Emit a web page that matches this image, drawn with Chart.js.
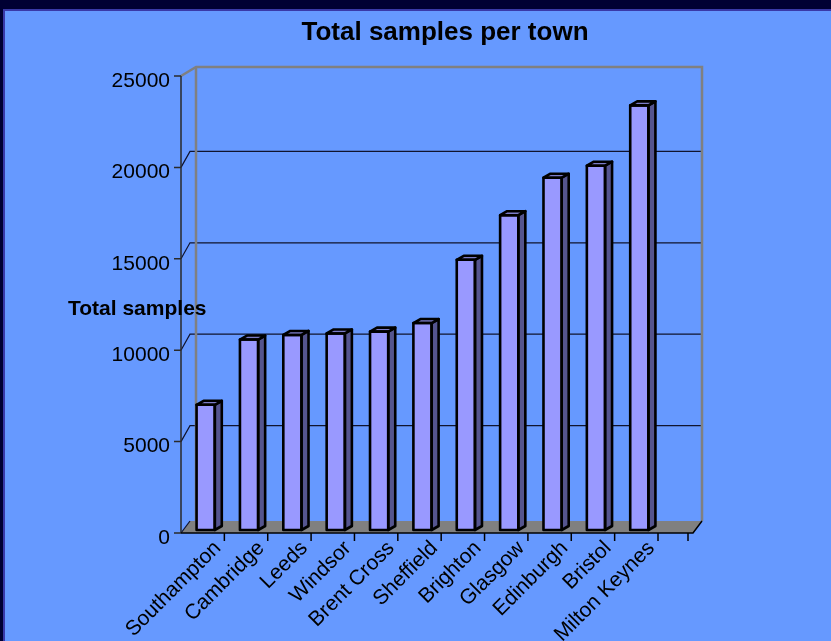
<!DOCTYPE html>
<html>
<head>
<meta charset="utf-8">
<script src="https://cdn.jsdelivr.net/npm/chart.js@4.4.0/dist/chart.umd.min.js"></script>
<style>
  html, body { margin: 0; padding: 0; background: #000033; overflow: hidden; }
  #wrap { width: 831px; height: 641px; }
</style>
</head>
<body>
<div id="wrap"><canvas id="townChart" width="831" height="641"></canvas></div>
<script>
// --- Data ---
const towns = ["Southampton", "Cambridge", "Leeds", "Windsor", "Brent Cross", "Sheffield",
  "Brighton", "Glasgow", "Edinburgh", "Bristol", "Milton Keynes"];
const totalSamples = [6850, 10420, 10670, 10750, 10850, 11320, 14780, 17220, 19270, 19930, 23230];
const yTicks = [0, 5000, 10000, 15000, 20000, 25000];
const chartTitle = "Total samples per town";
const yAxisTitle = "Total samples";

const fontFamily = "'Liberation Sans', Arial, sans-serif";

// --- 3D look: walls, floor, gridlines, bar sides ---
const depthPlugin = {
  id: "depth3d",
  beforeDraw(chart) {
    const ctx = chart.ctx;
    ctx.save();
    ctx.fillStyle = "#000033";
    ctx.fillRect(0, 0, chart.width, chart.height);
    ctx.fillStyle = "#3939a8";
    ctx.fillRect(3, 9, chart.width - 3, chart.height - 9);
    ctx.fillStyle = "#6699ff";
    ctx.fillRect(5, 11, chart.width - 5, chart.height - 11);
    ctx.restore();
  },
  beforeDatasetsDraw(chart) {
    const { ctx, chartArea: a, scales: { y } } = chart;
    const maxV = yTicks[yTicks.length - 1];
    const frontX = a.left - 3;
    const wallL = a.left + 12;
    const wallR = a.right + 41;
    const floorR = a.right + 32;
    const front = v => y.getPixelForValue(v) + 3;
    const back = v => y.getPixelForValue(v) - 13;
    const wallTop = y.getPixelForValue(maxV) - 6;
    const floorBack = y.getPixelForValue(0) - 9;

    ctx.save();
    // floor
    ctx.fillStyle = "#808080";
    ctx.beginPath();
    ctx.moveTo(frontX, front(0));
    ctx.lineTo(floorR, front(0));
    ctx.lineTo(wallR, floorBack);
    ctx.lineTo(wallL - 6, floorBack);
    ctx.closePath();
    ctx.fill();

    // gridlines on side + back wall
    ctx.strokeStyle = "#10142e";
    ctx.lineWidth = 1.2;
    yTicks.forEach(v => {
      if (v === 0 || v === maxV) return;
      ctx.beginPath();
      ctx.moveTo(frontX, front(v));
      ctx.lineTo(frontX + 9, back(v));
      ctx.lineTo(wallR, back(v));
      ctx.stroke();
    });
    // floor left diagonal
    ctx.beginPath();
    ctx.moveTo(frontX, front(0));
    ctx.lineTo(wallL - 6, floorBack);
    ctx.stroke();

    // wall borders
    ctx.strokeStyle = "#808080";
    ctx.lineWidth = 2.5;
    ctx.beginPath();
    ctx.moveTo(frontX, front(maxV));
    ctx.lineTo(wallL, wallTop);
    ctx.lineTo(wallR, wallTop);
    ctx.lineTo(wallR, floorBack);
    ctx.moveTo(wallL, wallTop);
    ctx.lineTo(wallL, floorBack);
    ctx.stroke();

    // front value axis + ticks
    ctx.strokeStyle = "#2a2a2a";
    ctx.lineWidth = 1.5;
    ctx.beginPath();
    ctx.moveTo(frontX, front(maxV));
    ctx.lineTo(frontX, front(0));
    yTicks.forEach(v => {
      ctx.moveTo(frontX - 7, front(v));
      ctx.lineTo(frontX, front(v));
    });
    ctx.stroke();

    // front category axis + ticks
    ctx.strokeStyle = "#000000";
    ctx.beginPath();
    ctx.moveTo(frontX, front(0));
    ctx.lineTo(floorR, front(0));
    ctx.lineTo(wallR, floorBack);
    const step = a.width / towns.length;
    for (let k = 1; k <= towns.length; k++) {
      const x = a.left + k * step - 3;
      ctx.moveTo(x, front(0));
      ctx.lineTo(x, front(0) + 8);
    }
    ctx.moveTo(floorR - 5, front(0));
    ctx.lineTo(floorR - 5, front(0) + 8);
    ctx.stroke();
    ctx.restore();
  },
  afterDatasetsDraw(chart) {
    const ctx = chart.ctx;
    const meta = chart.getDatasetMeta(0);
    const dx = 7, dy = -4;
    ctx.save();
    ctx.strokeStyle = "#000000";
    ctx.lineWidth = 2.6;
    ctx.lineJoin = "round";
    meta.data.forEach(bar => {
      const { x, y, base, width } = bar.getProps(["x", "y", "base", "width"], true);
      const l = x - width / 2, r = x + width / 2;
      // side face
      ctx.fillStyle = "#55558f";
      ctx.beginPath();
      ctx.moveTo(r, y);
      ctx.lineTo(r + dx, y + dy);
      ctx.lineTo(r + dx, base + dy);
      ctx.lineTo(r, base);
      ctx.closePath();
      ctx.fill();
      ctx.stroke();
      // top face
      ctx.fillStyle = "#7c7cc8";
      ctx.beginPath();
      ctx.moveTo(l, y);
      ctx.lineTo(l + dx, y + dy);
      ctx.lineTo(r + dx, y + dy);
      ctx.lineTo(r, y);
      ctx.closePath();
      ctx.fill();
      ctx.stroke();
      // front outline
      ctx.strokeRect(l, y, width, base - y);
    });
    ctx.restore();
  },
  afterDraw(chart) {
    const ctx = chart.ctx;
    ctx.save();
    ctx.fillStyle = "#000000";
    ctx.textBaseline = "middle";
    ctx.textAlign = "center";
    ctx.font = "bold 26px " + fontFamily;
    ctx.fillText(chartTitle, 445, 33);
    ctx.textAlign = "left";
    ctx.font = "bold 21px " + fontFamily;
    ctx.fillText(yAxisTitle, 68, 309);
    ctx.restore();
  }
};

const ctx = document.getElementById("townChart").getContext("2d");
const chart = new Chart(ctx, {
  type: "bar",
  data: {
    labels: towns,
    datasets: [{
      data: totalSamples,
      backgroundColor: "#9999ff",
      borderColor: "#000000",
      borderWidth: 0,
      barPercentage: 0.42,
      categoryPercentage: 1
    }]
  },
  options: {
    responsive: false,
    animation: false,
    layout: { padding: { top: 73, right: 170, left: 0, bottom: 0 } },
    plugins: {
      legend: { display: false },
      title: { display: false },
      tooltip: { enabled: false }
    },
    scales: {
      x: {
        grid: { display: false, drawTicks: false },
        border: { display: false },
        ticks: {
          color: "#000000",
          font: { size: 21, family: fontFamily },
          minRotation: 45,
          maxRotation: 45,
          autoSkip: false,
          labelOffset: 12,
          padding: 6
        },
        afterFit(scale) { scale.height = 111; }
      },
      y: {
        min: 0,
        max: 25000,
        grid: { display: false, drawTicks: false },
        border: { display: false },
        afterBuildTicks(scale) { scale.ticks = yTicks.map(v => ({ value: v })); },
        ticks: {
          color: "#000000",
          font: { size: 21, family: fontFamily },
          padding: 14,
          labelOffset: 8,
          callback: v => String(v)
        },
        afterFit(scale) { scale.width = 184; }
      }
    }
  },
  plugins: [depthPlugin]
});
</script>
</body>
</html>
